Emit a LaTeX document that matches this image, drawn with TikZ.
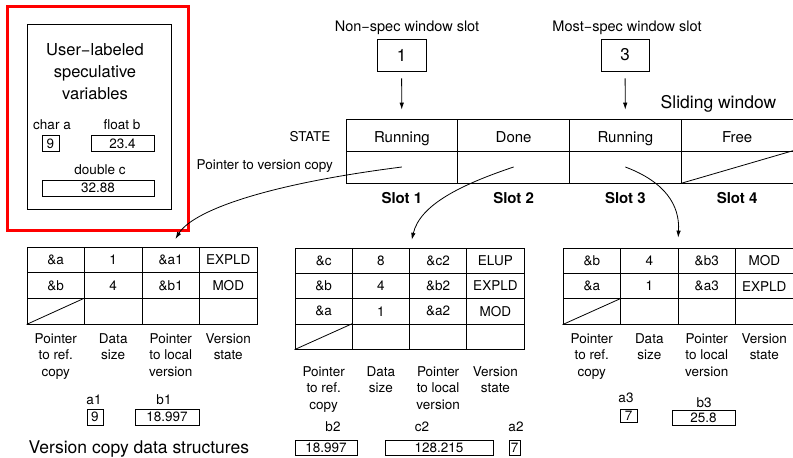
\documentclass[tikz,border=0pt]{standalone}
\usepackage{fontspec}
\setmainfont{TeX Gyre Heros}
\usetikzlibrary{arrows.meta,positioning,calc}

\begin{document}
\begin{tikzpicture}[x=1pt, y=-1pt, line width=0.8pt, >={Latex[length=7pt,width=4.5pt]},
  txts/.style={font=\fontsize{13.5}{16.5}\selectfont},
  txtm/.style={font=\fontsize{14.5}{18}\selectfont},
  txtl/.style={font=\fontsize{17.5}{22}\selectfont},
  cell/.style={draw, inner sep=0pt, txts},
  slotcell/.style={draw, inner sep=0pt, minimum width=111.75pt, minimum height=32pt, text height=14pt, text depth=0pt, font=\fontsize{15}{18}\selectfont},
  valbox/.style={draw, inner sep=0pt, minimum height=16pt, txts},
  colhead/.style={txts, align=center, anchor=north, inner sep=0pt}]
\useasboundingbox (0,0) rectangle (793,458);

% speculative variables
\node[draw=red, line width=3pt, minimum width=181pt, minimum height=224pt] (hilite) at (97.5,118) {};
\node[draw, minimum width=144pt, minimum height=185pt] (varbox) at (99,116.5) {};
\node[font=\fontsize{16.5}{22}\selectfont, align=center] (vtitle) at (95,72) {User−labeled\\speculative\\variables};
\node[txts] (ca) at (52,125) {char a};
\node[txts] (fb) at (122,125) {float b};
\node[valbox, minimum width=17pt] (va) at (50.5,143.5) {9};
\node[valbox, minimum width=63pt] (vb) at (122.5,143.5) {23.4};
\node[txts] (dc) at (100,170) {double c};
\node[valbox, minimum width=112pt] (vc) at (98,188) {32.88};

% sliding window
\foreach \i/\s in {1/Running,2/Done,3/Running,4/Free} {
  \node[slotcell] (s\i) at ({346+111.75*(\i-0.5)},135) {\s};
  \node[slotcell] (p\i) at ({346+111.75*(\i-0.5)},167) {};
  \node[font=\fontsize{15}{18}\selectfont\bfseries] (slot\i) at ({346+111.75*(\i-0.5)},198) {Slot \i};
}
\draw (p4.south west) -- (p4.north east);
\node[txts, anchor=east] (state) at (334,137) {STATE};
\node[txtl, anchor=east] (swin) at (780,104) {Sliding window};
\node[txts, anchor=west] (ptrlbl) at (193,166) {Pointer to version copy};

% window slot pointers
\node[draw, minimum width=49pt, minimum height=32pt, font=\fontsize{17}{20}\selectfont] (ns) at (401.5,55) {1};
\node[draw, minimum width=48pt, minimum height=32pt, font=\fontsize{17}{20}\selectfont] (ms) at (625,55) {3};
\node[txtm] (nslbl) at (407,28) {Non−spec window slot};
\node[txtm] (mslbl) at (627,28) {Most−spec window slot};
\draw[->, shorten <=7pt, shorten >=9pt] (ns) -- (s1);
\draw[->, shorten <=7pt, shorten >=9pt] (ms) -- (s3);

% version copy 1
\begin{scope}[cell/.append style={minimum width=57.5pt, minimum height=25.67pt}]
\foreach \r/\pa/\ds/\pl/\vs in {1/\&a/1/\&a1/EXPLD, 2/\&b/4/\&b1/MOD, 3////} {
  \foreach \c/\t in {1/\pa, 2/\ds, 3/\pl, 4/\vs}
    \node[cell] (ta-\r-\c) at ({27+57.5*(\c-0.5)},{247+25.67*(\r-0.5)}) {\t};
}
\end{scope}
\draw (ta-3-1.south west) -- (ta-3-1.north east);
\foreach \c/\t in {1/Pointer\\to ref.\\copy, 2/Data\\size, 3/Pointer\\to local\\version, 4/Version\\state}
  \node[colhead] (ha-\c) at ({27+57.5*(\c-0.5)},333) {\t};
\node[txts] (na1) at (94,400) {a1};
\node[valbox, minimum width=16pt] (va1) at (95,417) {9};
\node[txts] (nb1) at (164,400) {b1};
\node[valbox, minimum width=64pt] (vb1) at (167,417) {18.997};
\node[txtl, anchor=west] (vcds) at (25,449) {Version copy data structures};

% version copy 2
\begin{scope}[cell/.append style={minimum width=57.25pt, minimum height=25.3pt}]
\foreach \r/\pa/\ds/\pl/\vs in {1/\&c/8/\&c2/ELUP, 2/\&b/4/\&b2/EXPLD, 3/\&a/1/\&a2/MOD, 4////} {
  \foreach \c/\t in {1/\pa, 2/\ds, 3/\pl, 4/\vs}
    \node[cell] (tb-\r-\c) at ({295+57.25*(\c-0.5)},{248+25.3*(\r-0.5)}) {\t};
}
\end{scope}
\draw (tb-4-1.south west) -- (tb-4-1.north east);
\foreach \c/\t in {1/Pointer\\to ref.\\copy, 2/Data\\size, 3/Pointer\\to local\\version, 4/Version\\state}
  \node[colhead] (hb-\c) at ({295+57.25*(\c-0.5)},366) {\t};
\node[txts] (nb2) at (333,427) {b2};
\node[valbox, minimum width=62pt, minimum height=15pt] (vb2) at (326,447.5) {18.997};
\node[txts] (nc2) at (422,427) {c2};
\node[valbox, minimum width=108pt, minimum height=15pt] (vc2) at (439,447.5) {128.215};
\node[txts] (na2) at (516,427) {a2};
\node[valbox, minimum width=11pt, minimum height=15pt] (va2) at (514.5,447.5) {7};

% version copy 3
\begin{scope}[cell/.append style={minimum width=57.5pt, minimum height=25.4pt}]
\foreach \r/\pa/\ds/\pl/\vs in {1/\&b/4/\&b3/MOD, 2/\&a/1/\&a3/EXPLD, 3////} {
  \foreach \c/\t in {1/\pa, 2/\ds, 3/\pl, 4/\vs}
    \node[cell] (tc-\r-\c) at ({563+57.5*(\c-0.5)},{248+25.4*(\r-0.5)}) {\t};
}
\end{scope}
\draw (tc-3-1.south west) -- (tc-3-1.north east);
\foreach \c/\t in {1/Pointer\\to ref.\\copy, 2/Data\\size, 3/Pointer\\to local\\version, 4/Version\\state}
  \node[colhead] (hc-\c) at ({563+57.5*(\c-0.5)},333) {\t};
\node[txts] (na3) at (626,398) {a3};
\node[valbox, minimum width=17pt, minimum height=13pt] (va3) at (628.5,416) {7};
\node[txts] (nb3) at (704,403) {b3};
\node[valbox, minimum width=63pt, minimum height=15pt] (vb3) at (703.5,418) {25.8};

% slot -> version copy
\draw[->, shorten >=9pt] (p1.center) .. controls (260,185) and (192,212) .. (ta-1-3.north);
\draw[->, shorten >=8pt] (p2.center) .. controls (460,185) and (420,205) .. (tb-1-2.north east);
\draw[->, shorten >=10pt] (p3.center) .. controls (665,182) and (680,205) .. (tc-1-3.north west);
\end{tikzpicture}
\end{document}
